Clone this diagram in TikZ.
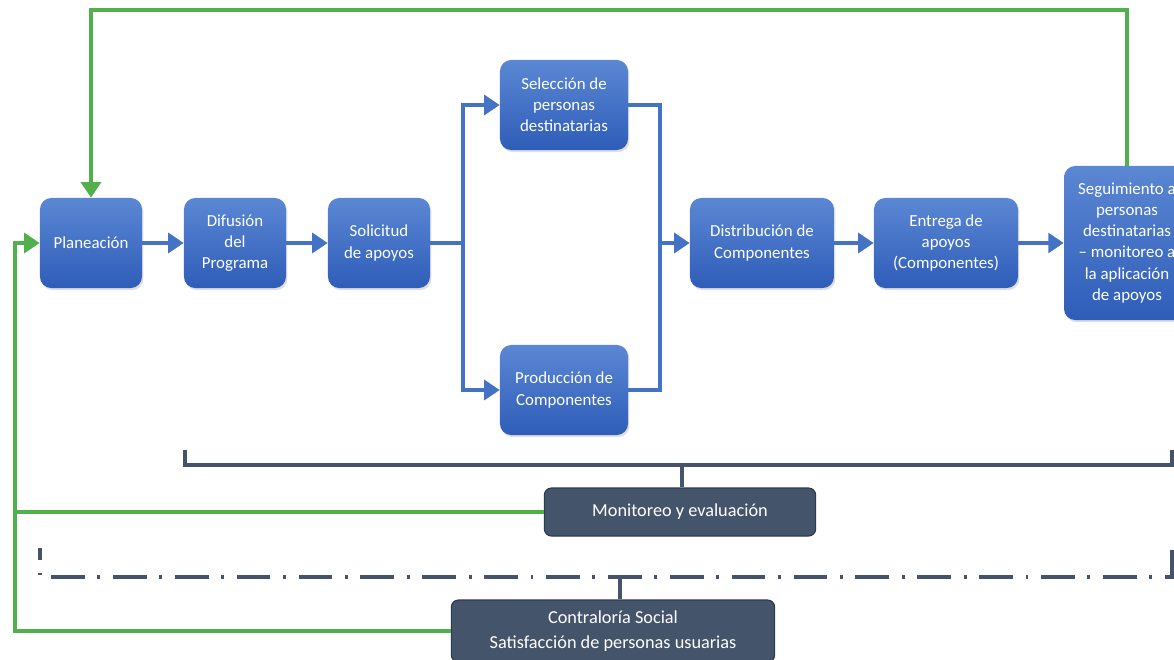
\documentclass[tikz,border=0pt]{standalone}
\usepackage{fontspec}
\setmainfont{Carlito}
\usetikzlibrary{arrows.meta,shadows}
\definecolor{boxtop}{HTML}{5B87D3}
\definecolor{boxbot}{HTML}{2E5DB9}
\definecolor{flowblue}{HTML}{4472C4}
\definecolor{slate}{HTML}{44546A}
\definecolor{slateedge}{HTML}{2C3A52}
\definecolor{loopgreen}{HTML}{52B04C}
\tikzset{
  stagebox/.style={rectangle, rounded corners=8pt, top color=boxtop, bottom color=boxbot,
    text=white, align=center, font=\fontsize{12}{15}\selectfont, inner sep=2pt,
    minimum height=2.25cm, drop shadow={opacity=0.25, shadow xshift=1pt, shadow yshift=-1.5pt}},
  darkbox/.style={rectangle, rounded corners=5pt, fill=slate, draw=slateedge, line width=0.8pt,
    text=white, align=center, font=\fontsize{13}{18}\selectfont},
  flowline/.style={draw=flowblue, line width=3pt, line cap=rect},
  flowarrow/.style={draw=flowblue, line width=3pt, -{Triangle[length=11pt,width=14pt]}},
  loopline/.style={draw=loopgreen, line width=3pt},
  looparrow/.style={loopline, -{Triangle[length=11pt,width=14pt]}},
  bracketline/.style={draw=slate, line width=2.8pt},
  dashdotline/.style={draw=slate, line width=2.6pt,
    dash pattern=on 24pt off 9pt on 2pt off 9pt, dash phase=15.5pt}
}
\begin{document}
\begin{tikzpicture}[x=0.025cm, y=-0.025cm]
    \useasboundingbox (0,0) rectangle (1174,659);
    % process stages
    \node[stagebox, minimum width=2.55cm] (plan) at (91,243) {Planeación};
    \node[stagebox, minimum width=2.55cm] (difu) at (235,243) {Difusión\\del\\Programa};
    \node[stagebox, minimum width=2.55cm] (soli) at (379,243) {Solicitud\\de apoyos};
    \node[stagebox, minimum width=3.2cm] (sele) at (564,105) {Selección de\\personas\\destinatarias};
    \node[stagebox, minimum width=3.2cm] (prod) at (564,390) {Producción de\\Componentes};
    \node[stagebox, minimum width=3.6cm] (dist) at (762,243) {Distribución de\\Componentes};
    \node[stagebox, minimum width=3.6cm] (entr) at (946,243) {Entrega de\\apoyos\\(Componentes)};
    \node[stagebox, minimum width=3.15cm, minimum height=3.85cm] (segu) at (1127,243)
      {Seguimiento a\\personas\\destinatarias\\– monitoreo a\\la aplicación\\de apoyos};
    \node[darkbox, minimum width=6.78cm, minimum height=1.2cm] (moni) at (680,512) {Monitoreo y evaluación};
    \node[darkbox, minimum width=8.08cm, minimum height=1.55cm] (contra) at (613,631)
      {Contraloría Social\\Satisfacción de personas usuarias};

    % blue flow
    \coordinate (split) at (463,243);
    \coordinate (merge) at (660,243);
    \draw[flowarrow] (plan) -- (difu);
    \draw[flowarrow] (difu) -- (soli);
    \draw[flowline] (soli.east) -- (split);
    \draw[flowarrow] (split) |- (sele.west);
    \draw[flowarrow] (split) |- (prod.west);
    \draw[flowline] (sele.east) -| (merge);
    \draw[flowline] (prod.east) -| (merge);
    \draw[flowarrow] (merge) -- (dist);
    \draw[flowarrow] (dist) -- (entr);
    \draw[flowarrow] (entr) -- (segu);

    % green feedback
    \coordinate (ttop) at (0,10);
    \coordinate (lft) at (15,0);
    \draw[looparrow] (segu.north) |- (ttop -| plan.north) -- (plan.north);
    \draw[looparrow] (contra.west) -| (lft |- plan.west) -- (plan.west);
    \draw[loopline] (moni.west) -- (moni.west -| lft);

    % monitoring brackets
    \coordinate (mstem) at (682,465);
    \coordinate (cstem) at (620,577);
    \draw[bracketline] (185,450) |- (1172,465) -- (1172,450);
    \draw[bracketline] (mstem) -- (mstem |- moni.north);
    \draw[dashdotline] (40,548) |- (1172,577) -- (1172,548);
    \draw[bracketline] (cstem) -- (cstem |- contra.north);
\end{tikzpicture}
\end{document}
